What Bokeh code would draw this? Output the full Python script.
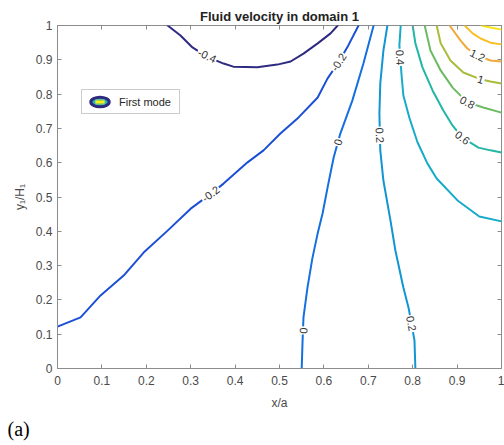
from bokeh.plotting import figure
from bokeh.models import (Range1d, LinearAxis, FixedTicker, Legend, LegendItem,
                          Title, ColumnDataSource)
from bokeh.embed import file_html
from bokeh.resources import INLINE
from bokeh.core.properties import value

# ---------------- data ----------------
levels = ["-0.4", "-0.2", "0", "0.2", "0.4", "0.6", "0.8", "1", "1.2", "1.4", "1.6"]
level_colors = ["#2e2a80", "#1c50d4", "#1570df", "#1195d3", "#16abc8", "#22b6a6",
                "#6cbb62", "#a9bc3b", "#f0a93a", "#f8bf25", "#f6e512"]

c_m04_x = [0.248, 0.277, 0.304, 0.335, 0.374, 0.396, 0.450, 0.495, 0.525, 0.554, 0.586, 0.615, 0.631]
c_m04_y = [1.0, 0.971, 0.936, 0.910, 0.889, 0.880, 0.878, 0.886, 0.895, 0.918, 0.948, 0.977, 1.0]

c_m02_x = [0.0, 0.052, 0.097, 0.149, 0.194, 0.248, 0.300, 0.345, 0.374, 0.428, 0.464,
           0.502, 0.543, 0.586, 0.608, 0.633, 0.655, 0.678]
c_m02_y = [0.122, 0.149, 0.213, 0.271, 0.338, 0.402, 0.466, 0.509, 0.539, 0.601, 0.636,
           0.685, 0.732, 0.790, 0.845, 0.893, 0.942, 1.0]

c_0_x = [0.550, 0.552, 0.554, 0.563, 0.574, 0.586, 0.597, 0.610, 0.622, 0.637, 0.664, 0.689, 0.712]
c_0_y = [0.0, 0.082, 0.149, 0.236, 0.321, 0.394, 0.452, 0.539, 0.615, 0.685, 0.781, 0.889, 1.0]

c_02_x = [0.806, 0.804, 0.791, 0.779, 0.761, 0.750, 0.734, 0.727, 0.725, 0.727, 0.734, 0.743]
c_02_y = [0.0, 0.082, 0.175, 0.236, 0.344, 0.431, 0.548, 0.636, 0.743, 0.831, 0.927, 1.0]

c_04_x = [0.773, 0.770, 0.775, 0.779, 0.793, 0.811, 0.833, 0.854, 0.901, 0.950, 1.0]
c_04_y = [1.0, 0.942, 0.854, 0.796, 0.729, 0.659, 0.598, 0.554, 0.490, 0.443, 0.429]

c_06_x = [0.800, 0.806, 0.822, 0.845, 0.869, 0.890, 0.912, 0.948, 0.975, 1.0]
c_06_y = [1.0, 0.948, 0.878, 0.810, 0.752, 0.708, 0.673, 0.644, 0.636, 0.630]

c_08_x = [0.827, 0.840, 0.863, 0.890, 0.923, 0.959, 1.0]
c_08_y = [1.0, 0.927, 0.869, 0.819, 0.776, 0.761, 0.746]

c_10_x = [0.854, 0.863, 0.885, 0.914, 0.953, 0.975, 1.0]
c_10_y = [1.0, 0.948, 0.898, 0.863, 0.843, 0.837, 0.831]

c_12_x = [0.883, 0.908, 0.923, 0.946, 0.975, 1.0]
c_12_y = [1.0, 0.956, 0.933, 0.913, 0.898, 0.895]

c_14_x = [0.917, 0.935, 0.953, 0.975, 1.0]
c_14_y = [1.0, 0.977, 0.962, 0.950, 0.945]

c_16_x = [0.955, 0.975, 1.0]
c_16_y = [1.0, 0.994, 0.988]

# contour labels
lab_text = ["-0.4", "-0.2", "-0.2", "0", "0", "0.2", "0.2", "0.4", "0.6", "0.8", "1", "1.2"]
lab_x = [0.337, 0.345, 0.633, 0.632, 0.554, 0.726, 0.797, 0.772, 0.912, 0.923, 0.953, 0.946]
lab_y = [0.912, 0.509, 0.893, 0.660, 0.111, 0.680, 0.131, 0.907, 0.673, 0.776, 0.843, 0.913]
lab_angle = [-0.45, 0.65, 1.0, 1.29, 1.53, -1.52, -1.39, -1.52, -0.65, -0.5, -0.3, -0.45]

tick_vals = [0.0, 0.1, 0.2, 0.3, 0.4, 0.5, 0.6, 0.7, 0.8, 0.9, 1.0]
tick_labels = ["0", "0.1", "0.2", "0.3", "0.4", "0.5", "0.6", "0.7", "0.8", "0.9", "1"]

title_text = "Fluid velocity in domain 1"
x_label = "x/a"
y_label = "y\u2081/H\u2081"
legend_label = "First mode"
panel_tag = "(a)"

# ---------------- figure ----------------
FONT = "Liberation Sans"
AX = "#8c8c8c"
TXT = "#4a4a4a"

p = figure(width=504, height=445, output_backend="svg", toolbar_location=None,
           x_range=Range1d(0, 1), y_range=Range1d(0, 1),
           min_border_left=57, min_border_right=3, min_border_top=25, min_border_bottom=77,
           x_axis_label=x_label, y_axis_label=y_label)
p.background_fill_color = "white"
p.border_fill_color = "white"
p.outline_line_color = AX
p.outline_line_width = 1
p.xgrid.visible = False
p.ygrid.visible = False

p.title.text = title_text
p.title.align = "center"
p.title.text_font = FONT
p.title.text_font_size = "13px"
p.title.text_font_style = "bold"
p.title.text_color = "#222222"
p.title.standoff = 4

ticker = FixedTicker(ticks=tick_vals)
overrides = {v: s for v, s in zip(tick_vals, tick_labels)}
for ax in (p.xaxis[0], p.yaxis[0]):
    ax.ticker = ticker
    ax.major_label_overrides = overrides
    ax.axis_line_color = AX
    ax.major_tick_line_color = AX
    ax.major_tick_in = 4
    ax.major_tick_out = 0
    ax.minor_tick_line_color = None
    ax.major_label_text_font = FONT
    ax.major_label_text_font_size = "12px"
    ax.major_label_text_color = TXT
    ax.axis_label_text_font = FONT
    ax.axis_label_text_font_size = "12px"
    ax.axis_label_text_font_style = "normal"
    ax.axis_label_text_color = TXT
p.xaxis[0].major_label_standoff = 7
p.xaxis[0].axis_label_standoff = 8
p.yaxis[0].major_label_standoff = 5
p.yaxis[0].axis_label_standoff = 6

for side in ("above", "right"):
    ax = LinearAxis(ticker=ticker,
                    major_label_overrides={v: "" for v in tick_vals},
                    axis_line_color=None, major_tick_line_color=AX,
                    major_tick_in=4, major_tick_out=0, minor_tick_line_color=None,
                    major_label_standoff=0, major_label_text_font_size="0px")
    p.add_layout(ax, side)

# contour lines
xs = [c_m04_x, c_m02_x, c_0_x, c_02_x, c_04_x, c_06_x, c_08_x, c_10_x, c_12_x, c_14_x, c_16_x]
ys = [c_m04_y, c_m02_y, c_0_y, c_02_y, c_04_y, c_06_y, c_08_y, c_10_y, c_12_y, c_14_y, c_16_y]
src = ColumnDataSource(dict(xs=xs, ys=ys, color=level_colors, level=levels))
p.multi_line(xs="xs", ys="ys", line_color="color", line_width=2, source=src,
             line_join="round", line_cap="round")

# contour labels (white box hides the line under the label)
lsrc = ColumnDataSource(dict(x=lab_x, y=lab_y, text=lab_text, angle=lab_angle))
p.text(x="x", y="y", text="text", angle="angle", source=lsrc,
       text_font=value(FONT), text_font_size="11px", text_color="#333333",
       text_align="center", text_baseline="middle",
       background_fill_color="white", padding=1)

# legend proxy glyphs (placed outside the visible range)
leg_src = ColumnDataSource(dict(x=[-1.0], y=[-1.0]))
r1 = p.ellipse(x="x", y="y", width=0.1, height=0.068, source=leg_src,
               fill_color="#21b5c6", line_color="#2e2a80", line_width=3)
r2 = p.scatter(x="x", y="y", marker="dash", size=10, source=leg_src,
               line_color="#93c85a", line_width=5)
r3 = p.scatter(x="x", y="y", marker="dash", size=10, source=leg_src,
               line_color="#f7f01c", line_width=2.5)
legend = Legend(items=[LegendItem(label=legend_label, renderers=[r1, r2, r3])],
                location=(24, 254), padding=0, margin=0, spacing=0,
                glyph_width=35, glyph_height=23, label_standoff=2, label_width=60,
                label_text_font=FONT, label_text_font_size="11px",
                label_text_color="#262626",
                border_line_color="#9a9a9a", border_line_width=1,
                background_fill_color="white", background_fill_alpha=1)
p.add_layout(legend)

tag = Title(text=panel_tag, align="left", offset=-50, standoff=6,
            text_font="Liberation Serif", text_font_size="20px",
            text_font_style="normal", text_color="black")
p.add_layout(tag, "below")

open("out.html", "w").write(file_html(p, INLINE))
